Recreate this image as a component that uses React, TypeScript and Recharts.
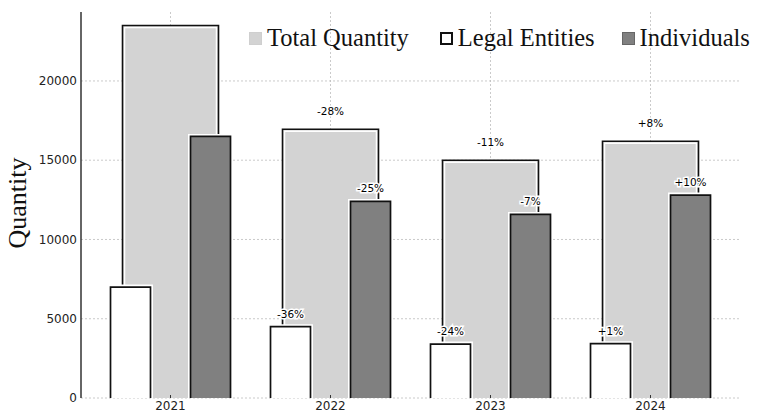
import React from "react";
import {
  BarChart,
  Bar,
  XAxis,
  YAxis,
  CartesianGrid,
  Legend,
  LabelList,
} from "recharts";

const years = ["2021", "2022", "2023", "2024"];
const totalQty = [23500, 16950, 15000, 16200];
const legalQty = [7000, 4500, 3400, 3430];
const indivQty = [16500, 12400, 11580, 12800];
const totalChange = ["", "-28%", "-11%", "+8%"];
const legalChange = ["", "-36%", "-24%", "+1%"];
const indivChange = ["", "-25%", "-7%", "+10%"];
const yTicks = [0, 5000, 10000, 15000, 20000];

const data = years.map((year, i) => ({
  year,
  total: totalQty[i],
  legal: legalQty[i],
  indiv: indivQty[i],
  totalChange: totalChange[i],
  legalChange: legalChange[i],
  indivChange: indivChange[i],
}));

const CHART_W = 757;
const CHART_H = 411;
const X_AXIS_H = 13;

const TotalShape = (props: any) => {
  const { x, y, width, height } = props;
  return (
    <g>
      <rect x={x} y={y} width={width} height={height} fill="#d3d3d3" />
      <path
        d={`M${x + 2},${y + height} L${x + 2},${y + 2} L${x + width - 2},${y + 2} L${x + width - 2},${y + height}`}
        fill="none"
        stroke="#ffffff"
        strokeWidth={1.5}
      />
      <path
        d={`M${x},${y + height} L${x},${y} L${x + width},${y} L${x + width},${y + height}`}
        fill="none"
        stroke="#111"
        strokeWidth={1.6}
      />
    </g>
  );
};

const makeHaloShape = (fill: string) => (props: any) => {
  const { x, y, width, height } = props;
  const d = `M${x},${y + height} L${x},${y} L${x + width},${y} L${x + width},${y + height}`;
  return (
    <g>
      <path d={d} fill="none" stroke="#ffffff" strokeWidth={5} />
      <rect x={x} y={y} width={width} height={height} fill={fill} />
      <path d={d} fill="none" stroke="#111" strokeWidth={1.7} />
    </g>
  );
};

const makeLabel = (gap: number) => (props: any) => {
  const vb = props.viewBox || {};
  const x = props.x ?? vb.x;
  const y = props.y ?? vb.y;
  const width = props.width ?? vb.width;
  const { value } = props;
  if (!value) return null;
  return (
    <text
      x={x + width / 2}
      y={y - gap}
      textAnchor="middle"
      dominantBaseline="central"
      fontFamily="DejaVu Sans"
      fontSize={10.5}
      fill="#000"
      stroke="#fff"
      strokeWidth={3}
      paintOrder="stroke"
    >
      {value}
    </text>
  );
};

const legendItems = [
  { name: "Total Quantity", fill: "#d3d3d3", stroke: "#cfcfcf", bw: 1, gap: 31 },
  { name: "Legal Entities", fill: "#ffffff", stroke: "#111", bw: 2, gap: 27 },
  { name: "Individuals", fill: "#808080", stroke: "#666", bw: 1, gap: 0 },
];

const renderLegend = () => (
  <div style={{ display: "flex", alignItems: "center", fontFamily: "Liberation Serif", fontSize: 24.5, color: "#111", whiteSpace: "nowrap" }}>
    {legendItems.map((it) => (
      <div key={it.name} style={{ display: "flex", alignItems: "center", marginRight: it.gap }}>
        <span
          style={{
            display: "inline-block",
            width: 13 - 2 * it.bw,
            height: 13 - 2 * it.bw,
            background: it.fill,
            border: `${it.bw}px solid ${it.stroke}`,
            marginRight: 5,
          }}
        />
        <span>{it.name}</span>
      </div>
    ))}
  </div>
);

const YLabel = (props: any) => {
  const vb = props.viewBox || {};
  const cy = vb.y + vb.height / 2 - 2;
  return (
    <text
      x={26}
      y={cy}
      transform={`rotate(-90, 26, ${cy})`}
      textAnchor="middle"
      fontFamily="Liberation Serif"
      fontSize={26}
      fill="#111"
    >
      Quantity
    </text>
  );
};

// tick labels sit just under the x axis line, with a short inward tick mark
const XTick = (props: any) => {
  const { x, payload } = props;
  const axisY = CHART_H - X_AXIS_H;
  return (
    <g>
      <line x1={x} x2={x} y1={axisY} y2={axisY - 3} stroke="#333" strokeWidth={1} />
      <text
        x={x}
        y={axisY + 11.5}
        textAnchor="middle"
        fontFamily="DejaVu Sans"
        fontSize={12}
        fill="#222"
      >
        {payload.value}
      </text>
    </g>
  );
};

const App: React.FC = () => {
  return (
    <div style={{ position: "absolute", left: 0, top: 0, width: CHART_W, height: CHART_H, background: "#fff" }}>
      <BarChart
        width={CHART_W}
        height={CHART_H}
        data={data}
        barGap={40}
        margin={{ top: 12, right: 17, left: 0, bottom: 0 }}
      >
        <XAxis
          xAxisId="t"
          dataKey="year"
          height={X_AXIS_H}
          padding={{ left: 9.5, right: 9.5 }}
          axisLine={{ stroke: "#333", strokeWidth: 1.5 }}
          tickLine={false}
          tickSize={2}
          tickMargin={0}
          tick={<XTick />}
        />
        <XAxis xAxisId="b" dataKey="year" hide padding={{ left: 9.5, right: 9.5 }} />
        <YAxis
          width={81}
          domain={[0, 24350]}
          ticks={yTicks}
          interval={0}
          axisLine={{ stroke: "#333", strokeWidth: 1.5 }}
          tickLine={false}
          tickSize={3}
          tickMargin={1}
          tick={{ fontSize: 12, fill: "#222", fontFamily: "DejaVu Sans" }}
          label={{ content: YLabel }}
        />
        <Bar
          xAxisId="t"
          dataKey="total"
          name="Total Quantity"
          barSize={96}
          shape={TotalShape}
          isAnimationActive={false}
        >
          <LabelList dataKey="totalChange" content={makeLabel(18)} />
        </Bar>
        <CartesianGrid
          xAxisId="t"
          stroke="#bdbdbd"
          strokeDasharray="2 2"
          strokeWidth={0.8}
          syncWithTicks
        />
        <Bar
          xAxisId="b"
          dataKey="legal"
          name="Legal Entities"
          barSize={40}
          shape={makeHaloShape("#ffffff")}
          isAnimationActive={false}
        >
          <LabelList dataKey="legalChange" content={makeLabel(13)} />
        </Bar>
        <Bar
          xAxisId="b"
          dataKey="indiv"
          name="Individuals"
          barSize={40}
          shape={makeHaloShape("#808080")}
          isAnimationActive={false}
        >
          <LabelList dataKey="indivChange" content={makeLabel(13)} />
        </Bar>
        <Legend
          layout="horizontal"
          verticalAlign="middle"
          content={renderLegend}
          wrapperStyle={{ top: 24, left: 249, width: "auto" }}
        />
      </BarChart>
    </div>
  );
};

export default App;
